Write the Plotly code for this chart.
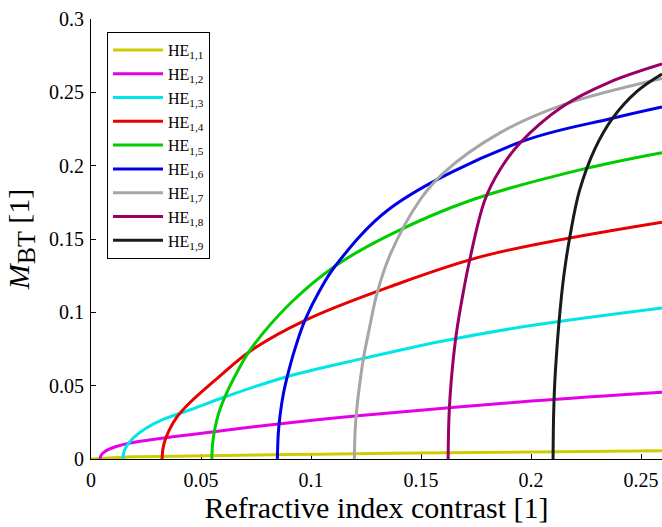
import plotly.graph_objects as go

# Mode labels and line colours
mode_names = ["HE<sub>1,1</sub>", "HE<sub>1,2</sub>", "HE<sub>1,3</sub>",
              "HE<sub>1,4</sub>", "HE<sub>1,5</sub>", "HE<sub>1,6</sub>",
              "HE<sub>1,7</sub>", "HE<sub>1,8</sub>", "HE<sub>1,9</sub>"]
mode_colors = ["#cccc00", "#e600e6", "#00e6e6", "#e60000", "#00cc00",
               "#0000e6", "#a6a6a6", "#990066", "#1a1a1a"]

# Refractive index contrast (x) and M_BT (y) for each HE mode
he11_x = [0, 0.02, 0.045, 0.09, 0.136, 0.2, 0.2595]
he11_y = [0, 0.0015, 0.0021, 0.003, 0.0039, 0.0048, 0.0056]

he12_x = [0.0041, 0.0046, 0.0058, 0.008, 0.0115, 0.0177, 0.028, 0.045, 0.0851, 0.12, 0.2, 0.2595]
he12_y = [0, 0.0025, 0.0045, 0.0065, 0.0085, 0.0109, 0.0133, 0.0166, 0.0239, 0.0293, 0.0395, 0.0455]

he13_x = [0.0145, 0.0149, 0.0157, 0.0172, 0.02, 0.025, 0.032, 0.045, 0.0617, 0.089, 0.1238, 0.16, 0.2, 0.2595]
he13_y = [0, 0.0045, 0.0075, 0.011, 0.0155, 0.021, 0.0265, 0.0335, 0.0428, 0.0561, 0.0686, 0.0805, 0.091, 0.103]

he14_x = [0.0323, 0.0327, 0.0335, 0.0355, 0.039, 0.045, 0.058, 0.0723, 0.0973, 0.136, 0.18, 0.2595]
he14_y = [0, 0.007, 0.012, 0.0195, 0.0285, 0.0385, 0.0558, 0.0735, 0.0945, 0.1175, 0.139, 0.1615]

he15_x = [0.0549, 0.0553, 0.0562, 0.058, 0.0615, 0.0665, 0.0723, 0.0905, 0.111, 0.136, 0.173, 0.2245, 0.2595]
he15_y = [0, 0.011, 0.02, 0.031, 0.0445, 0.0595, 0.0743, 0.106, 0.1316, 0.153, 0.1766, 0.198, 0.2089]

he16_x = [0.0847, 0.0851, 0.0859, 0.0875, 0.090, 0.0935, 0.0973, 0.104, 0.111, 0.136, 0.195, 0.237, 0.2595]
he16_y = [0, 0.017, 0.0295, 0.045, 0.061, 0.079, 0.0948, 0.115, 0.1316, 0.171, 0.216, 0.2323, 0.240]

he17_x = [0.1197, 0.1200, 0.1206, 0.1216, 0.1238, 0.1265, 0.13, 0.136, 0.1495, 0.16, 0.186, 0.2145, 0.2595]
he17_y = [0, 0.018, 0.031, 0.045, 0.0686, 0.089, 0.113, 0.1395, 0.1766, 0.1948, 0.2225, 0.2415, 0.2595]

he18_x = [0.1623, 0.1626, 0.1632, 0.1643, 0.166, 0.1685, 0.172, 0.179, 0.186, 0.195, 0.2145, 0.235, 0.2595]
he18_y = [0, 0.025, 0.043, 0.063, 0.085, 0.108, 0.135, 0.1766, 0.1975, 0.2155, 0.2405, 0.2565, 0.2693]

he19_x = [0.21, 0.2102, 0.2107, 0.2115, 0.2128, 0.2148, 0.2178, 0.222, 0.229, 0.237, 0.248, 0.2595]
he19_y = [0, 0.027, 0.05, 0.07, 0.095, 0.124, 0.153, 0.183, 0.2115, 0.2323, 0.2505, 0.2625]

series_x = [he11_x, he12_x, he13_x, he14_x, he15_x, he16_x, he17_x, he18_x, he19_x]
series_y = [he11_y, he12_y, he13_y, he14_y, he15_y, he16_y, he17_y, he18_y, he19_y]

# Axis ticks
x_ticks = [0, 0.05, 0.1, 0.15, 0.2, 0.25]
x_tick_text = ["0", "0.05", "0.1", "0.15", "0.2", "0.25"]
y_ticks = [0, 0.05, 0.1, 0.15, 0.2, 0.25, 0.3]
y_tick_text = ["0", "0.05", "0.1", "0.15", "0.2", "0.25", "0.3"]

serif = "Liberation Serif"

fig = go.Figure()
for name, color, xs, ys in zip(mode_names, mode_colors, series_x, series_y):
    fig.add_trace(go.Scatter(
        x=xs, y=ys, name=name, mode="lines",
        line=dict(color=color, width=3, shape="spline", smoothing=1.0),
    ))

fig.update_layout(
    width=662, height=527,
    margin=dict(l=91, r=0, t=19, b=68),
    paper_bgcolor="white", plot_bgcolor="white",
    font=dict(family=serif, color="black", size=16),
    showlegend=True,
    legend=dict(
        x=0.028, y=0.9705, xanchor="left", yanchor="top",
        bordercolor="black", borderwidth=1, bgcolor="white",
        font=dict(family=serif, size=16, color="black"),
        itemwidth=50, tracegroupgap=0,
    ),
    xaxis=dict(
        range=[0, 0.2595], tickvals=x_ticks, ticktext=x_tick_text,
        ticks="inside", ticklen=5, tickcolor="black",
        showline=True, linecolor="black", linewidth=1, mirror=False,
        showgrid=False, zeroline=False, layer="below traces",
        tickfont=dict(family=serif, size=20), ticklabelstandoff=3,
        title=dict(text="Refractive index contrast [1]",
                   font=dict(family=serif, size=30), standoff=6),
        automargin=False,
    ),
    yaxis=dict(
        range=[0, 0.3], tickvals=y_ticks, ticktext=y_tick_text,
        ticks="inside", ticklen=5, tickcolor="black",
        showline=True, linecolor="black", linewidth=1, mirror=False,
        showgrid=False, zeroline=False, layer="below traces",
        tickfont=dict(family=serif, size=20), ticklabelstandoff=2,
        title=dict(text="<i>M</i><sub><span style='font-size:26px'>BT</span></sub> [1]",
                   font=dict(family=serif, size=30), standoff=10),
        automargin=False,
    ),
)

fig.write_html("out.html")
